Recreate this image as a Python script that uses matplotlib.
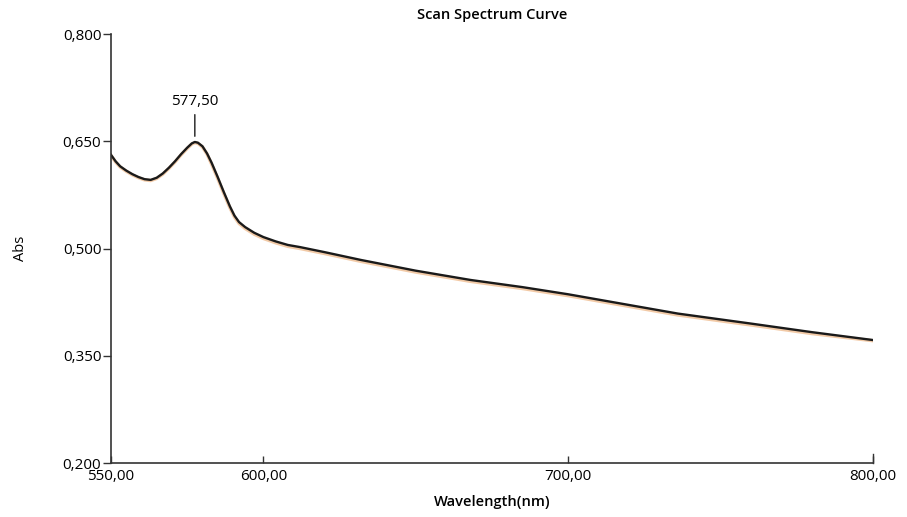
import numpy as np
import matplotlib.pyplot as plt

comprimento_onda = [550, 551.5, 553, 555, 557, 559, 561, 563, 565, 567, 569, 571, 573,
                    575, 576.5, 577.5, 578.5, 580, 581.5, 583, 585, 587, 589, 590.5,
                    592, 594, 597, 600, 604, 608, 612, 620, 632, 650, 668, 685, 700,
                    720, 736, 760, 780, 800]
absorbancia = [0.631, 0.622, 0.615, 0.609, 0.604, 0.600, 0.597, 0.596, 0.599, 0.605,
               0.613, 0.622, 0.632, 0.641, 0.647, 0.649, 0.648, 0.643, 0.633, 0.620,
               0.600, 0.579, 0.559, 0.546, 0.537, 0.530, 0.522, 0.516, 0.510, 0.505,
               0.502, 0.495, 0.484, 0.469, 0.456, 0.446, 0.436, 0.421, 0.409, 0.395,
               0.383, 0.372]
# segunda varredura (laranja, quase sobreposta)
absorbancia_2 = [0.630, 0.621, 0.614, 0.608, 0.603, 0.599, 0.596, 0.595, 0.598, 0.604,
                 0.612, 0.621, 0.631, 0.640, 0.646, 0.648, 0.647, 0.642, 0.632, 0.618,
                 0.598, 0.577, 0.557, 0.544, 0.535, 0.528, 0.520, 0.514, 0.508, 0.503,
                 0.500, 0.493, 0.482, 0.467, 0.454, 0.444, 0.434, 0.419, 0.407, 0.393,
                 0.381, 0.371]

ticks_x = [550, 600, 700, 800]
ticks_y = [0.2, 0.35, 0.5, 0.65, 0.8]
pico = 577.5

plt.rcParams['font.family'] = ['Open Sans', 'DejaVu Sans']

fig = plt.figure(figsize=(9.07, 5.17), dpi=100)
ax = fig.add_axes([0.1224, 0.1044, 0.8401, 0.8298])

ax.plot(comprimento_onda, absorbancia_2, color='#e8a060', lw=2.4, alpha=0.55)
ax.plot(comprimento_onda, absorbancia, color='#1a1a1a', lw=1.7)

ax.set_xlim(550, 800)
ax.set_ylim(0.2, 0.8)

ax.set_xticks(ticks_x)
ax.set_xticklabels([f'{t:.2f}'.replace('.', ',') for t in ticks_x])
ax.set_yticks(ticks_y)
ax.set_yticklabels([f'{t:.3f}'.replace('.', ',') for t in ticks_y])

ax.tick_params(axis='x', direction='in', length=5, width=1, labelsize=11, pad=4, color='#333333')
ax.tick_params(axis='y', direction='out', length=6, width=1, labelsize=11, pad=1, color='#333333')

for lado in ['top', 'right']:
    ax.spines[lado].set_visible(False)
for lado in ['left', 'bottom']:
    ax.spines[lado].set_color('#333333')
    ax.spines[lado].set_linewidth(1.2)

# marca da direita em 800
ax.plot([800, 800], [0.2, 0.212], color='#333333', lw=1, clip_on=False)

# anotacao do pico
y_pico = absorbancia[comprimento_onda.index(pico)]
ax.annotate(f'{pico:.2f}'.replace('.', ','), xy=(pico, y_pico + 0.008),
            xytext=(pico, y_pico + 0.046), ha='center', va='bottom', fontsize=11,
            arrowprops=dict(arrowstyle='-', color='#1a1a1a', lw=1, shrinkA=2, shrinkB=0))

ax.set_title('Scan Spectrum Curve', fontsize=10.5, fontweight='semibold', pad=11)
ax.set_xlabel('Wavelength(nm)', fontsize=10.5, fontweight='semibold', labelpad=8)
ax.set_ylabel('Abs', fontsize=10.5, labelpad=25)

fig.savefig('out.png', dpi=100)
